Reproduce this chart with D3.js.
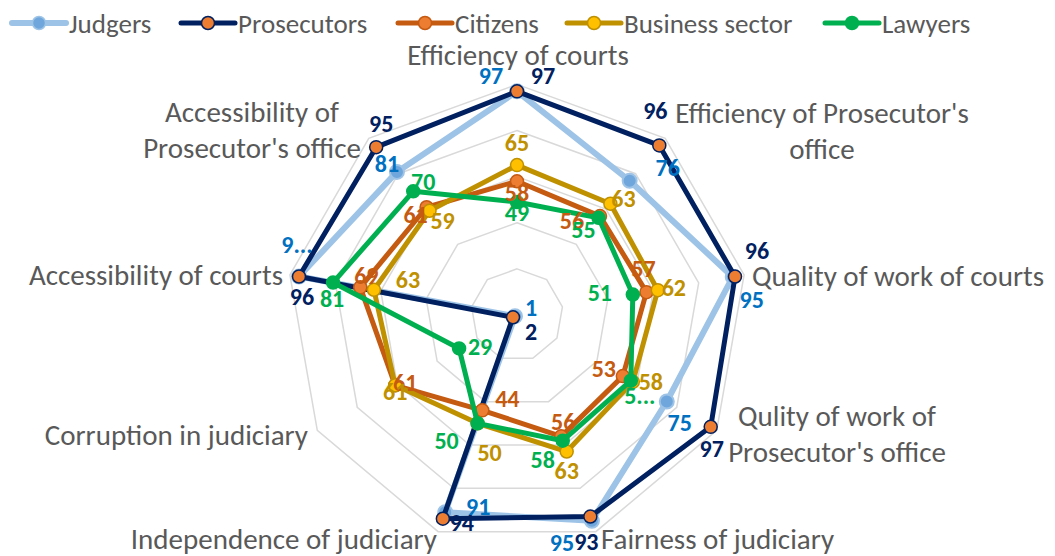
<!DOCTYPE html>
<html><head><meta charset="utf-8">
<script src="https://cdn.jsdelivr.net/npm/d3@7"></script>
<style>body{margin:0;background:#fff}svg{display:block}</style>
</head><body>
<svg id="c" width="1055" height="556"></svg>
<script>
const categories = ["Efficiency of courts","Efficiency of Prosecutor's office","Quality of work of courts","Qulity of work of Prosecutor's office","Fairness of judiciary","Independence of judiciary","Corruption in judiciary","Accessibility of courts","Accessibility of Prosecutor's office"];
const seriesNames = ["Judgers","Prosecutors","Citizens","Business sector","Lawyers"];
const judgers     = [97,76,95,75,95,91,1,96,81];
const prosecutors = [97,96,96,97,93,94,2,96,95];
const citizens    = [58,56,57,53,56,44,61,69,61];
const business    = [65,63,62,58,63,50,61,63,59];
const lawyers     = [49,55,51,57,58,50,29,81,70];
const gridTicks   = [20,40,60,80,100];
// truncated labels as shown
const labelTextOverride = {"0-7":"9...","4-3":"5..."};

// styling
const styles = [
  {line:"#9DC3E6", width:6, fill:"#6FA6DC", stroke:"#9DC3E6", label:"#0070C0"},
  {line:"#002060", width:5, fill:"#ED7D31", stroke:"#002060", label:"#002060"},
  {line:"#C55A11", width:5, fill:"#ED7D31", stroke:"#C55A11", label:"#C55A11"},
  {line:"#BF9000", width:5, fill:"#FFC000", stroke:"#BF9000", label:"#BF9000"},
  {line:"#00B050", width:5, fill:"#00B050", stroke:"#00B050", label:"#00B050"}
];
// label offsets (dx,dy) from point, per series per category
const labelOffsets = [
  [[-26,-16],[38,-13],[19,23],[13,21],[-30,22],[33,-6],[16,-9],[-2,-32],[-10,-8]],
  [[26,-16],[-4,-35],[22,-26],[1,22],[-4,25],[19,4],[18,14],[3,20],[5,-24]],
  [[0,11],[-28,4],[-3,-24],[-19,-8],[2,-15],[25,-12],[10,-3],[6,-12],[-11,7]],
  [[0,-23],[13,-5],[16,-3],[18,0],[0,19],[12,29],[0,6],[34,-10],[13,10]],
  [[0,10],[-15,12],[-33,-2],[9,15],[-20,19],[-31,17],[21,-2],[-1,16],[10,-10]]
];

const data = [judgers,prosecutors,citizens,business,lawyers];
const svg = d3.select("#c");
const cx = 517, cy = 315;
const r = d3.scaleLinear().domain([0,100]).range([0,230.6]);
const angle = d3.scaleLinear().domain([0,categories.length]).range([0,2*Math.PI]);
const pt = (i,v)=>[cx + r(v)*Math.sin(angle(i)), cy - r(v)*Math.cos(angle(i))];
const FONT = "Carlito, Lato, 'Open Sans', sans-serif";

// grid
const gridLine = d3.lineRadial().angle((d,i)=>angle(i)).radius(d=>r(d)).curve(d3.curveLinearClosed);
svg.append("g").attr("transform",`translate(${cx},${cy})`).selectAll("path").data(gridTicks).join("path")
  .attr("d",t=>gridLine(categories.map(()=>t))).attr("fill","none").attr("stroke","#D9D9D9").attr("stroke-width",1.5);

// axis labels
const axisLabelLines = [
  {lines:["Efficiency of courts"],x:518,y:55,a:"middle"},
  {lines:["Efficiency of Prosecutor's","office"],x:822,y:113,a:"middle"},
  {lines:["Quality of work of courts"],x:752,y:276,a:"start"},
  {lines:["Qulity of work of","Prosecutor's office"],x:837,y:416,a:"middle"},
  {lines:["Fairness of judiciary"],x:601,y:539,a:"start"},
  {lines:["Independence of judiciary"],x:437,y:539,a:"end"},
  {lines:["Corruption in judiciary"],x:308,y:435,a:"end"},
  {lines:["Accessibility of courts"],x:283,y:275,a:"end"},
  {lines:["Accessibility of","Prosecutor's office"],x:252,y:112,a:"middle"}
];
const ag = svg.append("g").attr("font-family",FONT).attr("font-size",29).attr("fill","#595959");
axisLabelLines.forEach(d=>{
  d.lines.forEach((t,j)=>{
    ag.append("text").attr("x",d.x).attr("y",d.y+j*36).attr("text-anchor",d.a).attr("dominant-baseline","central").text(t);
  });
});

// series
const line = d3.lineRadial().angle((d,i)=>angle(i)).radius(d=>r(d)).curve(d3.curveLinearClosed);
const gs = svg.append("g");
data.forEach((vals,s)=>{
  const st = styles[s];
  const g = gs.append("g");
  g.append("path").attr("transform",`translate(${cx},${cy})`).attr("d",line(vals))
    .attr("fill","none").attr("stroke",st.line).attr("stroke-width",st.width).attr("stroke-linejoin","round");
  g.selectAll("circle").data(vals).join("circle")
    .attr("cx",(d,i)=>pt(i,d)[0]).attr("cy",(d,i)=>pt(i,d)[1]).attr("r",s===0?7:6.5)
    .attr("fill",st.fill).attr("stroke",st.stroke).attr("stroke-width",s===0?2:1.5);
});
// labels
const lg = svg.append("g").attr("font-family",FONT).attr("font-weight","bold").attr("font-size",24);
data.forEach((vals,s)=>{
  vals.forEach((v,i)=>{
    const p = pt(i,v), o = labelOffsets[s][i];
    lg.append("text").attr("x",p[0]+o[0]).attr("y",p[1]+o[1]).attr("text-anchor","middle").attr("dominant-baseline","central")
      .attr("fill",styles[s].label).text(labelTextOverride[s+"-"+i] || String(v));
  });
});

// legend
const legX = [12,181,398,567,825];
const leg = svg.append("g").attr("font-family",FONT).attr("font-size",27).attr("fill","#595959");
seriesNames.forEach((n,s)=>{
  const st = styles[s], x = legX[s], y = 23;
  leg.append("line").attr("x1",x).attr("x2",x+54).attr("y1",y).attr("y2",y).attr("stroke",st.line).attr("stroke-width",st.width).attr("stroke-linecap","round");
  leg.append("circle").attr("cx",x+27).attr("cy",y).attr("r",6.5).attr("fill",st.fill).attr("stroke",st.stroke).attr("stroke-width",1.5);
  leg.append("text").attr("x",x+57).attr("y",y).attr("dominant-baseline","central").text(n);
});
</script>
</body></html>
